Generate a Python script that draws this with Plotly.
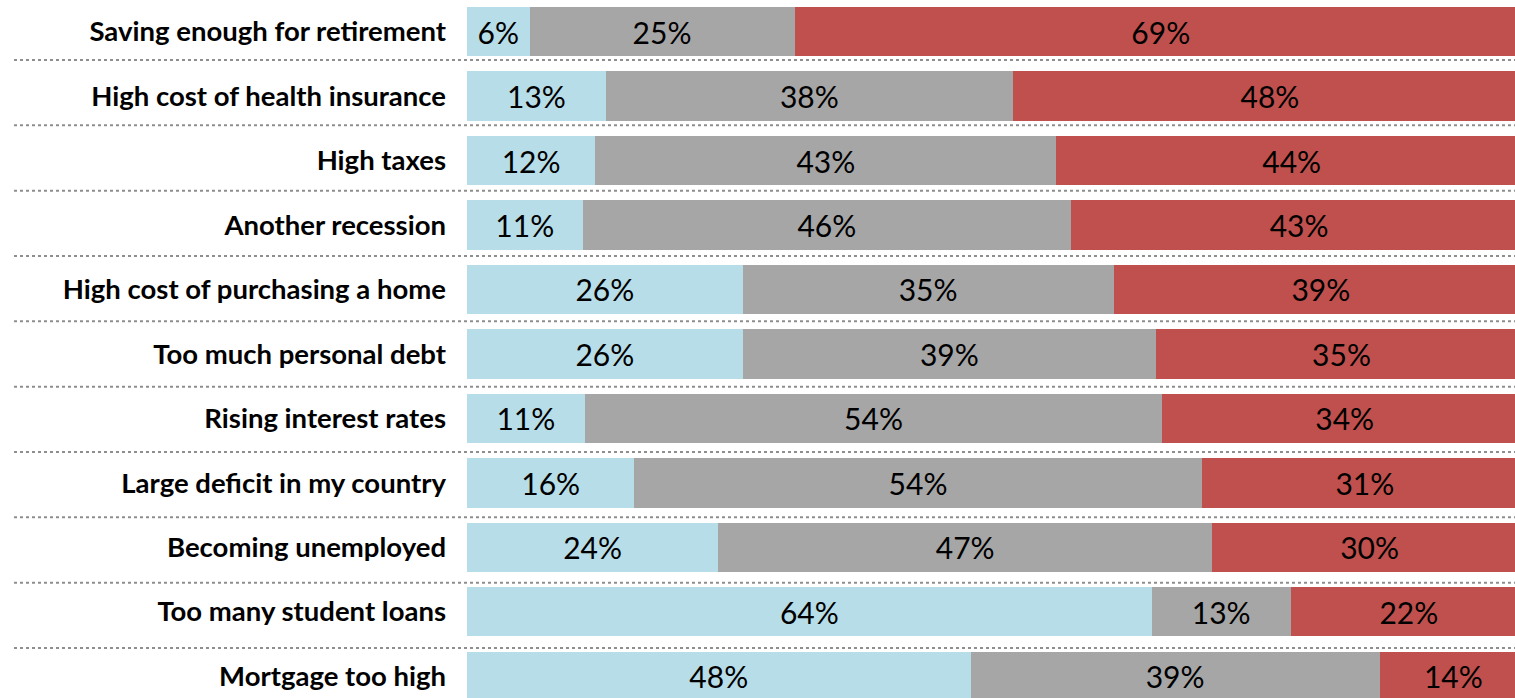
import plotly.graph_objects as go

categories = [
    "Saving enough for retirement",
    "High cost of health insurance",
    "High taxes",
    "Another recession",
    "High cost of purchasing a home",
    "Too much personal debt",
    "Rising interest rates",
    "Large deficit in my country",
    "Becoming unemployed",
    "Too many student loans",
    "Mortgage too high",
]

# segment sizes (percent)
low_values = [5.9, 13.1, 12.1, 10.9, 26.0, 26.0, 11.1, 15.8, 23.7, 64.6, 47.5]
mid_values = [25.0, 38.4, 43.5, 46.1, 35.0, 39.0, 54.5, 53.5, 46.6, 13.1, 38.6]
high_values = [69.1, 48.5, 44.4, 43.0, 39.1, 35.0, 34.4, 30.8, 29.7, 22.3, 13.9]

# printed labels
low_labels = ["6%", "13%", "12%", "11%", "26%", "26%", "11%", "16%", "24%", "64%", "48%"]
mid_labels = ["25%", "38%", "43%", "46%", "35%", "39%", "54%", "54%", "47%", "13%", "39%"]
high_labels = ["69%", "48%", "44%", "43%", "39%", "35%", "34%", "31%", "30%", "22%", "14%"]

colors = ["#B7DDE8", "#A6A6A6", "#C0504D"]

W, H = 1515, 698
LEFT = 467
PX_PER_PCT = 10.6
ROW_PITCH = 64.47
FIRST_CENTER = 31.6

fig = go.Figure()
for vals, labels, col in [
    (low_values, low_labels, colors[0]),
    (mid_values, mid_labels, colors[1]),
    (high_values, high_labels, colors[2]),
]:
    fig.add_trace(go.Bar(
        y=categories, x=vals, orientation="h",
        marker=dict(color=col, line=dict(width=0)),
        text=labels, textposition="inside", insidetextanchor="middle",
        textangle=0, constraintext="none",
        textfont=dict(family="Lato", size=30, color="black"),
        hoverinfo="skip", showlegend=False,
    ))

plot_w = W - LEFT
x_max = plot_w / PX_PER_PCT
y_top = -FIRST_CENTER / ROW_PITCH
y_bot = (H - FIRST_CENTER) / ROW_PITCH

# dotted separators (layout decoration, pixel rows)
shapes = []
for i in range(10):
    ypx = 60 + 65.33 * i
    shapes.append(dict(
        type="line", xref="paper", yref="paper",
        x0=(14 - LEFT) / plot_w, x1=1.0,
        y0=1 - ypx / H, y1=1 - ypx / H,
        line=dict(color="#8E8E8E", width=2, dash="dot"),
        layer="above",
    ))

fig.update_layout(
    width=W, height=H,
    margin=dict(l=LEFT, r=0, t=0, b=0),
    barmode="stack", bargap=0.235,
    plot_bgcolor="white", paper_bgcolor="white",
    shapes=shapes,
    xaxis=dict(range=[0, x_max], visible=False, fixedrange=True),
    yaxis=dict(
        type="category", range=[y_bot, y_top],
        showgrid=False, zeroline=False, showline=False, ticks="",
        ticklabelstandoff=20,
        tickfont=dict(family="Lato", size=27.5, color="black", weight="bold"),
        fixedrange=True,
    ),
)

fig.write_html(
    "out.html",
    config={"displayModeBar": False},
    post_script="document.body.style.margin='0';document.body.style.overflow='hidden';",
)
